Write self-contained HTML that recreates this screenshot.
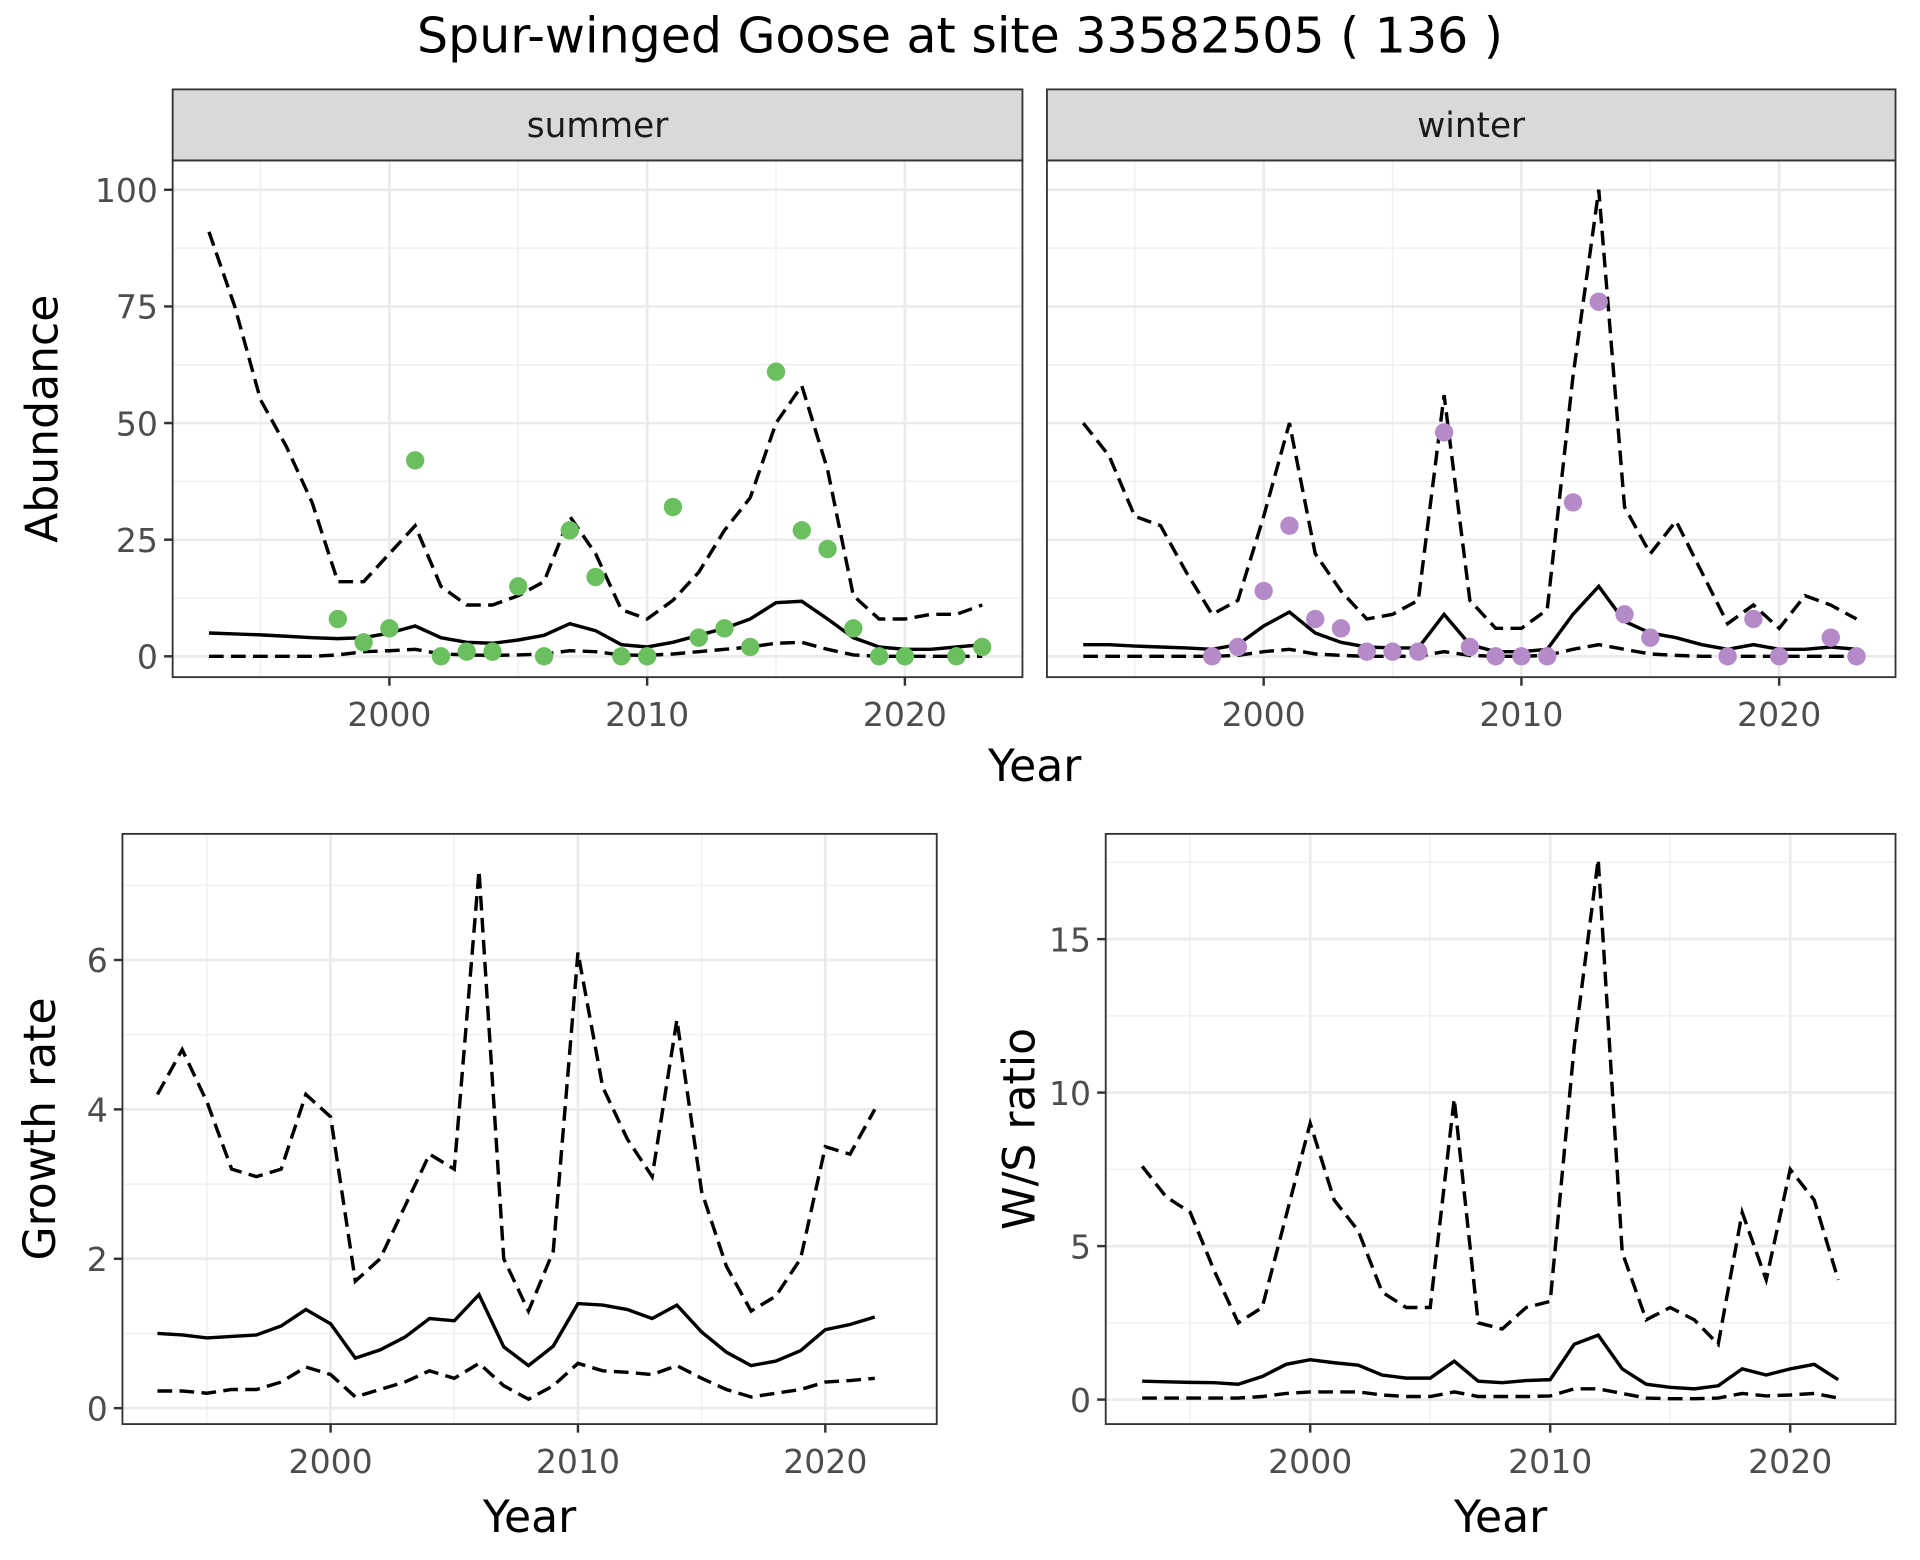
<!DOCTYPE html>
<html><head><meta charset="utf-8"><style>
body{margin:0;background:#fff}
svg{display:block}
text{font-family:"DejaVu Sans","Liberation Sans",sans-serif}
</style></head><body>
<svg id="c" width="1920" height="1560" viewBox="0 0 1568 1274" preserveAspectRatio="none" xmlns="http://www.w3.org/2000/svg">
<text x="784" y="43" font-size="40" text-anchor="middle">Spur-winged Goose at site 33582505 ( 136 )</text>
</svg>
<script>
const years = [];
for (let y = 1993; y <= 2023; y++) years.push(y);
const sumUpper = [91,75,55,45,33,16,16,22,28,15,11,11,13,16,30,22,10,8,12,18,27,34,50,58,40,13,8,8,9,9,11];
const sumMean = [5,4.8,4.6,4.3,4,3.8,4,5,6.5,4,3,2.8,3.5,4.5,7,5.5,2.5,2,3,4.5,6,8,11.5,11.8,8,4,2,1.5,1.5,2,2.5];
const sumLower = [0,0,0,0,0,0.3,1,1.2,1.5,0.5,0.3,0.2,0.3,0.5,1.2,1,0.3,0.2,0.5,1,1.5,2,2.8,3,1.5,0.3,0,0,0,0,0];
const sumPtYears = [1998,1999,2000,2001,2002,2003,2004,2005,2006,2007,2008,2009,2010,2011,2012,2013,2014,2015,2016,2017,2018,2019,2020,2022,2023];
const sumPts = [8,3,6,42,0,1,1,15,0,27,17,0,0,32,4,6,2,61,27,23,6,0,0,0,2];
const winUpper = [50,43,30,28,18,9,12,30,50,22,14,8,9,12,56,12,6,6,10,60,100,32,22,29,18,7,11,6,13,11,8];
const winMean = [2.5,2.5,2.2,2,1.8,1.5,2.5,6.5,9.5,5,3,2,1.8,1.8,9,2.5,1,1,1.5,9,15,7.5,5,4,2.5,1.5,2.5,1.5,1.5,2,1.5];
const winLower = [0,0,0,0,0,0,0.2,1,1.5,0.5,0.2,0,0,0,1,0.2,0,0,0.2,1.5,2.5,1.5,0.5,0.2,0,0,0,0,0,0,0];
const winPtYears = [1998,1999,2000,2001,2002,2003,2004,2005,2006,2007,2008,2009,2010,2011,2012,2013,2014,2015,2018,2019,2020,2022,2023];
const winPts = [0,2,14,28,8,6,1,1,1,48,2,0,0,0,33,76,9,4,0,8,0,4,0];
const gYears = years.slice(0,30);
const grUpper = [4.2,4.8,4.1,3.2,3.1,3.2,4.2,3.9,1.7,2,2.7,3.4,3.2,7.2,2,1.3,2.1,6.1,4.3,3.6,3.1,5.2,2.9,1.9,1.3,1.5,2,3.5,3.4,4];
const grMean = [1,0.98,0.94,0.96,0.98,1.1,1.32,1.13,0.67,0.78,0.95,1.2,1.17,1.52,0.82,0.57,0.83,1.4,1.38,1.32,1.2,1.38,1.02,0.75,0.57,0.63,0.77,1.05,1.12,1.22];
const grLower = [0.23,0.23,0.2,0.25,0.25,0.35,0.55,0.45,0.15,0.25,0.35,0.5,0.4,0.6,0.3,0.12,0.3,0.6,0.5,0.48,0.45,0.57,0.4,0.25,0.15,0.2,0.25,0.35,0.37,0.4];
const wsUpper = [7.6,6.6,6.1,4.2,2.5,3,6,9,6.5,5.5,3.5,3,3,9.8,2.5,2.3,3,3.2,11.5,17.6,4.8,2.6,3,2.6,1.8,6.1,3.9,7.5,6.5,3.9];
const wsMean = [0.6,0.58,0.56,0.55,0.5,0.75,1.15,1.3,1.2,1.12,0.8,0.7,0.7,1.25,0.6,0.55,0.62,0.65,1.8,2.1,1,0.5,0.4,0.35,0.45,1,0.8,1,1.15,0.65];
const wsLower = [0.05,0.05,0.05,0.05,0.05,0.1,0.2,0.25,0.25,0.25,0.15,0.1,0.1,0.25,0.1,0.1,0.1,0.12,0.35,0.35,0.2,0.05,0.03,0.03,0.05,0.2,0.12,0.15,0.2,0.05];
const xTicks = [2000,2010,2020];

const svg = document.getElementById('c');
const NS = 'http://www.w3.org/2000/svg';
function el(tag, attrs, parent) {
  const e = document.createElementNS(NS, tag);
  for (const k in attrs) e.setAttribute(k, attrs[k]);
  (parent || svg).appendChild(e);
  return e;
}
function panel(p) {
  const g = el('g', {});
  
  
  const sx = v => p.x0 + (v - 2000) * p.xs;
  const sy = v => p.y0 - v * p.ys;
  el('rect', {x:p.l, y:p.t, width:p.r-p.l, height:p.b-p.t, fill:'#fff'}, g);
  for (let v = 1990; v <= 2030; v += 5) { if (v % 10 === 0) continue; const x = sx(v); if (x > p.l && x < p.r) el('line', {x1:x,x2:x,y1:p.t,y2:p.b,stroke:'#f0f0f0','stroke-width':1.2}, g); }
  for (let i = 0; i < p.yTicks.length + 1; i++) { const v = p.yTicks[0] + (i - 0.5) * (p.yTicks[1]-p.yTicks[0]); const y = sy(v); if (y > p.t && y < p.b) el('line', {x1:p.l,x2:p.r,y1:y,y2:y,stroke:'#f0f0f0','stroke-width':1.2}, g); }
  xTicks.forEach(v => { const x = sx(v); el('line', {x1:x,x2:x,y1:p.t,y2:p.b,stroke:'#ebebeb','stroke-width':2.2}, g); });
  p.yTicks.forEach(v => { const y = sy(v); el('line', {x1:p.l,x2:p.r,y1:y,y2:y,stroke:'#ebebeb','stroke-width':2.2}, g); });
  const line = (xs, ys, dash, nm) => {
    const pl = el('polyline', {points: xs.map((x,i)=>sx(x)+','+sy(ys[i])).join(' '), fill:'none', stroke:'#000', 'stroke-width':2.8, 'stroke-dasharray': dash ? '12,6' : 'none'}, g);
    
    
  };
  line(p.yrs, p.upper, true, 'upper-bound-line');
  line(p.yrs, p.lower, true, 'lower-bound-line');
  line(p.yrs, p.mean, false, 'mean-line');
  if (p.pts) p.ptYears.forEach((yr, i) => {
    const c = el('circle', {cx:sx(yr), cy:sy(p.pts[i]), r:7.5, fill:p.col}, g);
    
    
  });
  el('rect', {x:p.l, y:p.t, width:p.r-p.l, height:p.b-p.t, fill:'none', stroke:'#333','stroke-width':1.5}, g);
  xTicks.forEach(v => { const x = sx(v);
    el('line', {x1:x,x2:x,y1:p.b,y2:p.b+7,stroke:'#333','stroke-width':2}, g);
    const t = el('text', {x:x, y:p.b+40, 'font-size':27, fill:'#4d4d4d','text-anchor':'middle'}, g); t.textContent = v; });
  if (p.yLabels) p.yTicks.forEach(v => { const y = sy(v);
    el('line', {x1:p.l-7,x2:p.l,y1:y,y2:y,stroke:'#333','stroke-width':2}, g);
    const t = el('text', {x:p.l-12, y:y+10, 'font-size':27, fill:'#4d4d4d','text-anchor':'end'}, g); t.textContent = v; });
  if (p.strip) {
    el('rect', {x:p.l, y:p.t-58, width:p.r-p.l, height:58, fill:'#d9d9d9', stroke:'#333','stroke-width':1.5}, g);
    const t = el('text', {x:(p.l+p.r)/2, y:p.t-19, 'font-size':28, fill:'#1a1a1a','text-anchor':'middle'}, g); t.textContent = p.strip;
  }
  if (p.xTitle) { const t = el('text', {x:(p.l+p.r)/2, y:p.b+88, 'font-size':36,'text-anchor':'middle'}, g); t.textContent = 'Year'; }
  if (p.yTitle) { const cx = p.yTitleX, cy = (p.t+p.b)/2;
    const t = el('text', {x:cx, y:cy, 'font-size':36,'text-anchor':'middle', transform:'rotate(-90 '+cx+' '+cy+')'}, g); t.textContent = p.yTitle; }
}
panel({name:'summer-panel', l:141, r:835, t:131, b:553, x0:318, xs:21.05, y0:536, ys:3.81, yTicks:[0,25,50,75,100], yLabels:true,
  yrs:years, upper:sumUpper, mean:sumMean, lower:sumLower, ptYears:sumPtYears, pts:sumPts, col:'#6abf5e', strip:'summer', yTitle:'Abundance', yTitleX:47});
panel({name:'winter-panel', l:855, r:1548, t:131, b:553, x0:1032, xs:21.05, y0:536, ys:3.81, yTicks:[0,25,50,75,100], yLabels:false,
  yrs:years, upper:winUpper, mean:winMean, lower:winLower, ptYears:winPtYears, pts:winPts, col:'#b48ac8', strip:'winter'});
const yt = el('text', {x:845, y:638, 'font-size':36, 'text-anchor':'middle'}); yt.textContent = 'Year';
 
panel({name:'growth-rate-panel', l:100, r:765, t:681, b:1163, x0:270, xs:20.2, y0:1150, ys:61, yTicks:[0,2,4,6], yLabels:true,
  yrs:gYears, upper:grUpper, mean:grMean, lower:grLower, xTitle:true, yTitle:'Growth rate', yTitleX:45});
panel({name:'ws-ratio-panel', l:903, r:1548, t:681, b:1163, x0:1070, xs:19.6, y0:1143, ys:25.07, yTicks:[0,5,10,15], yLabels:true,
  yrs:gYears, upper:wsUpper, mean:wsMean, lower:wsLower, xTitle:true, yTitle:'W/S ratio', yTitleX:845});
</script>
</body></html>
